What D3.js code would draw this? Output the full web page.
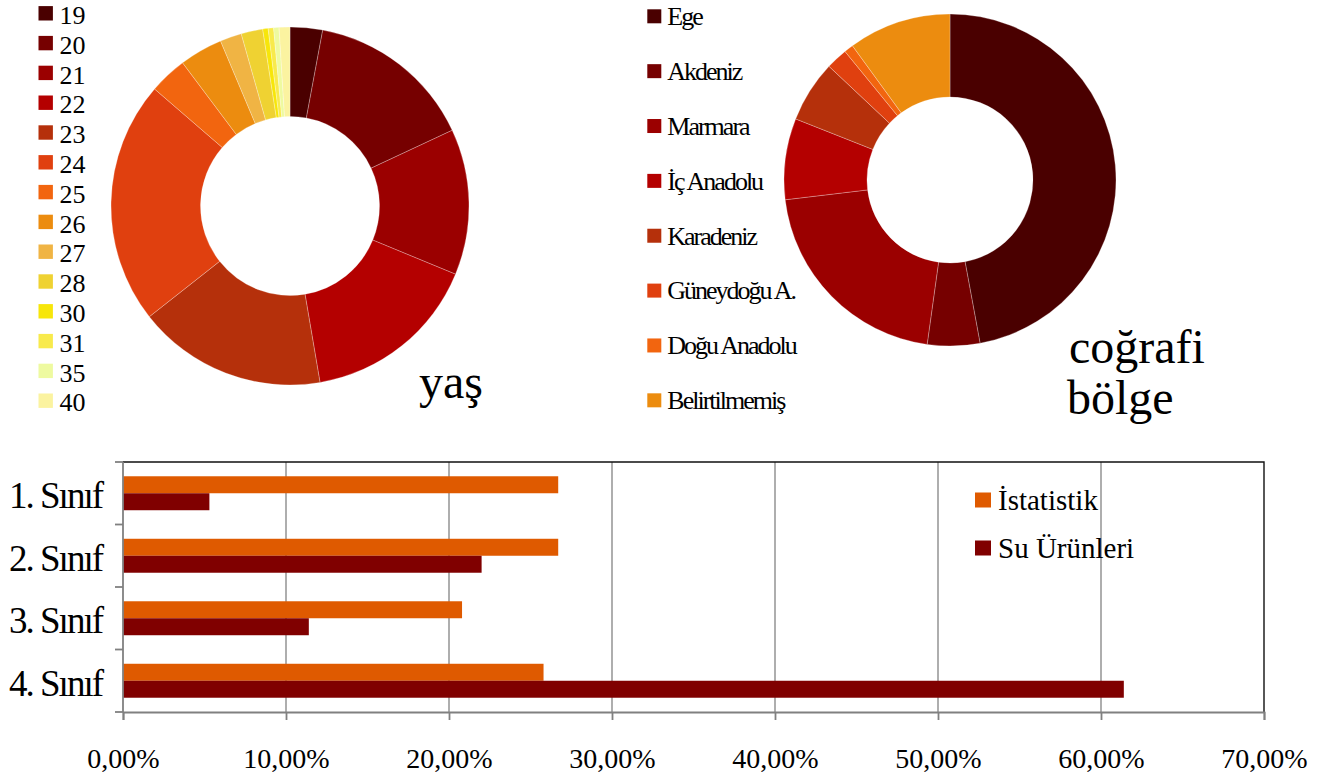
<!DOCTYPE html>
<html>
<head>
<meta charset="utf-8">
<script src="https://cdn.jsdelivr.net/npm/d3@7"></script>
<style>
  html, body { margin: 0; padding: 0; background: #fff; }
  svg { display: block; }
  text { font-family: "Liberation Serif", "Times New Roman", serif; }
</style>
</head>
<body>
<svg id="chart" width="1325" height="776" font-family="Liberation Serif, Times New Roman, serif"></svg>
<script>
// Age distribution (counts per age)
const ages = ["19", "20", "21", "22", "23", "24", "25", "26", "27", "28", "30", "31", "35", "40"];
const ageCounts = [6, 31, 27, 33, 35, 45, 7, 8, 4, 4, 1, 1, 1, 2];

// Geographic region shares (%)
const regions = ["Ege", "Akdeniz", "Marmara", "İç Anadolu", "Karadeniz", "Güneydoğu A.", "Doğu Anadolu", "Belirtilmemiş"];
const regionShares = [47.1, 5.1, 20.9, 7.9, 6.0, 2.1, 0.9, 10.0];

// Class year shares per department
const classes = ["1. Sınıf", "2. Sınıf", "3. Sınıf", "4. Sınıf"];
const seriesNames = ["İstatistik", "Su Ürünleri"];
const statShares = [0.267, 0.267, 0.208, 0.258];
const fishShares = [0.053, 0.220, 0.114, 0.614];
const xTicks = [0, 0.1, 0.2, 0.3, 0.4, 0.5, 0.6, 0.7];

const palette = ["#4a0000", "#760000", "#9b0000", "#b40000", "#b5300b", "#e0400f", "#f2650f",
                 "#ec8c0f", "#f0b444", "#efd232", "#f7e60a", "#f8ea4c", "#eefaa0", "#fbf3a0"];
const seriesColors = ["#df5a00", "#800000"];
const SERIF = "'Liberation Serif', 'Times New Roman', serif";

const svg = d3.select("#chart");

// ---------- donut helper ----------
function donut(cx, cy, rOuter, rInner, labels, values) {
  const pie = d3.pie().sort(null).value(d => d.v);
  const arc = d3.arc().innerRadius(rInner).outerRadius(rOuter);
  const data = labels.map((l, i) => ({ l, v: values[i], c: palette[i] }));
  svg.append("g")
    .attr("transform", `translate(${cx},${cy})`)
    .selectAll("path")
    .data(pie(data))
    .join("path")
    .attr("d", arc)
    .attr("fill", d => d.data.c)
    .attr("stroke", "#ffffff")
    .attr("stroke-opacity", 0.45)
    .attr("stroke-width", 0.6);
}

// ---------- age donut + legend ----------
donut(290, 206, 179, 89.5, ages, ageCounts);

const ageLegend = svg.append("g").selectAll("g")
  .data(ages)
  .join("g")
  .attr("transform", (d, i) => `translate(38.5,${13.3 + i * 29.8})`);
ageLegend.append("rect")
  .attr("x", 0).attr("y", -7.2).attr("width", 14.4).attr("height", 14.4)
  .attr("fill", (d, i) => palette[i]);
ageLegend.append("text")
  .attr("x", 21).attr("y", 10.6)
  .style("font-family", SERIF)
  .attr("font-size", 26)
  .attr("fill", "#000")
  .text(d => d);

svg.append("text")
  .attr("x", 419).attr("y", 398)
  .style("font-family", SERIF)
  .attr("font-size", 48)
  .text("yaş");

// ---------- region donut + legend ----------
donut(950, 180, 166, 83, regions, regionShares);

const regLegend = svg.append("g").selectAll("g")
  .data(regions)
  .join("g")
  .attr("transform", (d, i) => `translate(647.3,${16.3 + i * 54.86})`);
regLegend.append("rect")
  .attr("x", 0).attr("y", -7).attr("width", 14).attr("height", 14)
  .attr("fill", (d, i) => palette[i]);
regLegend.append("text")
  .attr("x", 20).attr("y", 8.8)
  .style("font-family", SERIF)
  .attr("font-size", 26)
  .attr("letter-spacing", "-2px")
  .attr("fill", "#000")
  .text(d => d);

const regTitle = svg.append("text").style("font-family", SERIF).attr("font-size", 48);
regTitle.append("tspan").attr("x", 1069).attr("y", 363).text("coğrafi");
regTitle.append("tspan").attr("x", 1067).attr("y", 414).text("bölge");

// ---------- class bar chart ----------
const plot = { left: 123, right: 1264, top: 462, bottom: 712 };

const x = d3.scaleLinear().domain([0, 0.7]).range([plot.left, plot.right]);
const y0 = d3.scaleBand().domain(classes).range([plot.top, plot.bottom]).padding(0);
const y1 = d3.scaleBand().domain(seriesNames).range([0, y0.bandwidth()])
  .paddingInner(0).paddingOuter(0.84);

const tr = d3.formatLocale({ decimal: ",", thousands: ".", grouping: [3], currency: ["", "₺"] });
const pct = tr.format(".2%");

// vertical gridlines
svg.append("g")
  .selectAll("line")
  .data(xTicks.slice(1, -1))
  .join("line")
  .attr("x1", d => x(d)).attr("x2", d => x(d))
  .attr("y1", plot.top).attr("y2", plot.bottom)
  .attr("stroke", "#8c8c8c")
  .attr("stroke-width", 1.4);

// frame: top and right edges
svg.append("path")
  .attr("d", `M${plot.left},${plot.top}H${plot.right}V${plot.bottom}`)
  .attr("fill", "none")
  .attr("stroke", "#111")
  .attr("stroke-width", 1.4);

// bars
const rows = classes.map((c, i) => ({ c, vals: [statShares[i], fishShares[i]] }));
const groups = svg.append("g").selectAll("g")
  .data(rows)
  .join("g")
  .attr("transform", d => `translate(0,${y0(d.c)})`);
groups.selectAll("rect")
  .data(d => d.vals.map((v, j) => ({ v, s: seriesNames[j], j })))
  .join("rect")
  .attr("x", x(0))
  .attr("y", d => y1(d.s))
  .attr("width", d => x(d.v) - x(0))
  .attr("height", y1.bandwidth())
  .attr("fill", d => seriesColors[d.j]);

// bottom axis
const xAxis = svg.append("g")
  .attr("transform", `translate(0,${plot.bottom})`)
  .call(d3.axisBottom(x).tickValues(xTicks).tickFormat(pct).tickSize(8).tickPadding(28))
  .attr("font-family", null);
xAxis.select(".domain").attr("stroke", "#808080").attr("stroke-width", 1.8);
xAxis.selectAll(".tick line").attr("stroke", "#808080").attr("stroke-width", 1.8);
xAxis.selectAll(".tick text")
  .style("font-family", SERIF)
  .attr("font-size", 28)
  .attr("fill", "#000");

// left axis: line with ticks at category boundaries
const yAxis = svg.append("g");
yAxis.append("line")
  .attr("x1", plot.left).attr("x2", plot.left)
  .attr("y1", plot.top).attr("y2", plot.bottom)
  .attr("stroke", "#808080").attr("stroke-width", 1.8);
const boundaries = classes.map(c => y0(c)).concat([plot.bottom]);
yAxis.selectAll("line.tk")
  .data(boundaries)
  .join("line")
  .attr("class", "tk")
  .attr("x1", plot.left - 8).attr("x2", plot.left)
  .attr("y1", d => d).attr("y2", d => d)
  .attr("stroke", "#808080").attr("stroke-width", 1.8);
yAxis.selectAll("text")
  .data(classes)
  .join("text")
  .attr("x", 102)
  .attr("y", d => y0(d) + y0.bandwidth() / 2 + 15)
  .attr("text-anchor", "end")
  .style("font-family", SERIF)
  .attr("font-size", 37)
  .attr("letter-spacing", "-2px")
  .attr("fill", "#000")
  .text(d => d);

// legend for the bars
const barLegend = svg.append("g").selectAll("g")
  .data(seriesNames)
  .join("g")
  .attr("transform", (d, i) => `translate(975,${500 + i * 48})`);
barLegend.append("rect")
  .attr("x", 0).attr("y", -7.5).attr("width", 16).attr("height", 15)
  .attr("fill", (d, i) => seriesColors[i]);
barLegend.append("text")
  .attr("x", 23).attr("y", 9.5)
  .style("font-family", SERIF)
  .attr("font-size", 29)
  .attr("fill", "#000")
  .text(d => d);
</script>
</body>
</html>
